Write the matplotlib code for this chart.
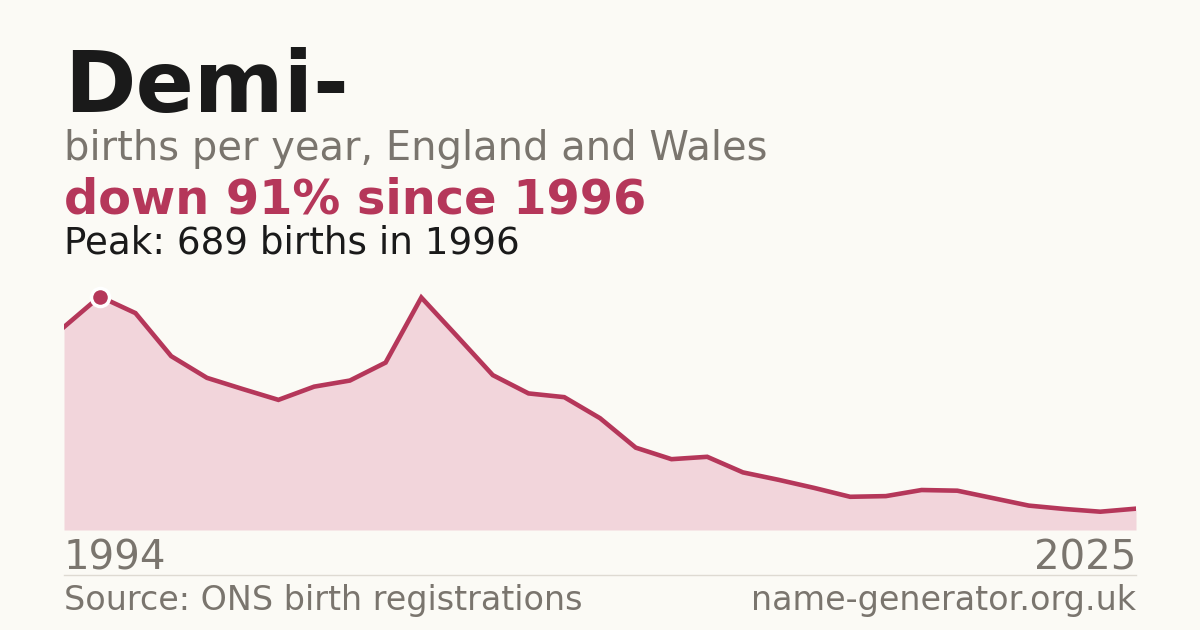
import matplotlib
matplotlib.use("Agg")
import matplotlib.pyplot as plt

# births per year
years = list(range(1995, 2026))
births = [599, 689, 640, 513, 449, 416, 384, 423, 441, 494,
          686, 572, 457, 403, 392, 330, 243, 209, 216, 170,
          148, 124, 98, 100, 118, 116, 94, 72, 62, 54, 63]
end_labels = ["1994", "2025"]

name = "Demi-"
subtitle = "births per year, England and Wales"
headline = "down 91% since 1996"
peak_note = "Peak: 689 births in 1996"
source = "Source: ONS birth registrations"
site = "name-generator.org.uk"

BG = "#fbfaf5"
RED = "#b5375a"
FILL = "#f2d5db"
GREY = "#7a756e"
INK = "#1a1a1a"

plt.rcParams["font.family"] = ["DejaVu Sans"]

W, H = 1200, 630
fig = plt.figure(figsize=(12, 6.3), dpi=100, facecolor=BG)


def fx(px):
    return px / W


def fy(py):
    return 1 - py / H


# chart area
ax = fig.add_axes([fx(64), fy(530), fx(1136) - fx(64), fy(286) - fy(530)])
ax.set_facecolor(BG)
ax.fill_between(years, births, 0, color=FILL, lw=0)
ax.plot(years, births, color=RED, lw=3.3, solid_joinstyle="miter")

peak_i = births.index(max(births))
ax.plot(years[peak_i], births[peak_i], "o", ms=13, color=RED,
        mec="white", mew=2.5, zorder=5)

ax.set_xlim(years[0], years[-1])
ax.set_ylim(0, 720)
ax.axis("off")

# headings
fig.text(fx(64), fy(112), name, fontsize=62, fontweight="bold", color=INK, va="baseline")
fig.text(fx(64), fy(160), subtitle, fontsize=28.8, color=GREY, va="baseline")
fig.text(fx(64), fy(214), headline, fontsize=34.5, fontweight="bold", color=RED, va="baseline")
fig.text(fx(64), fy(253), peak_note, fontsize=26.8, color=INK, va="baseline")

# end year labels
fig.text(fx(64), fy(570), end_labels[0], fontsize=29, color=GREY, va="baseline")
fig.text(fx(1136), fy(570), end_labels[1], fontsize=29, color=GREY, va="baseline", ha="right")

# separator and footer
fig.add_artist(plt.Line2D([fx(64), fx(1136)], [fy(574.5), fy(574.5)],
                          color="#dedad2", lw=1))
fig.text(fx(64), fy(610), source, fontsize=24, color=GREY, va="baseline")
fig.text(fx(1136), fy(610), site, fontsize=24, color=GREY, va="baseline", ha="right")

fig.savefig("out.png", dpi=100, facecolor=BG)
